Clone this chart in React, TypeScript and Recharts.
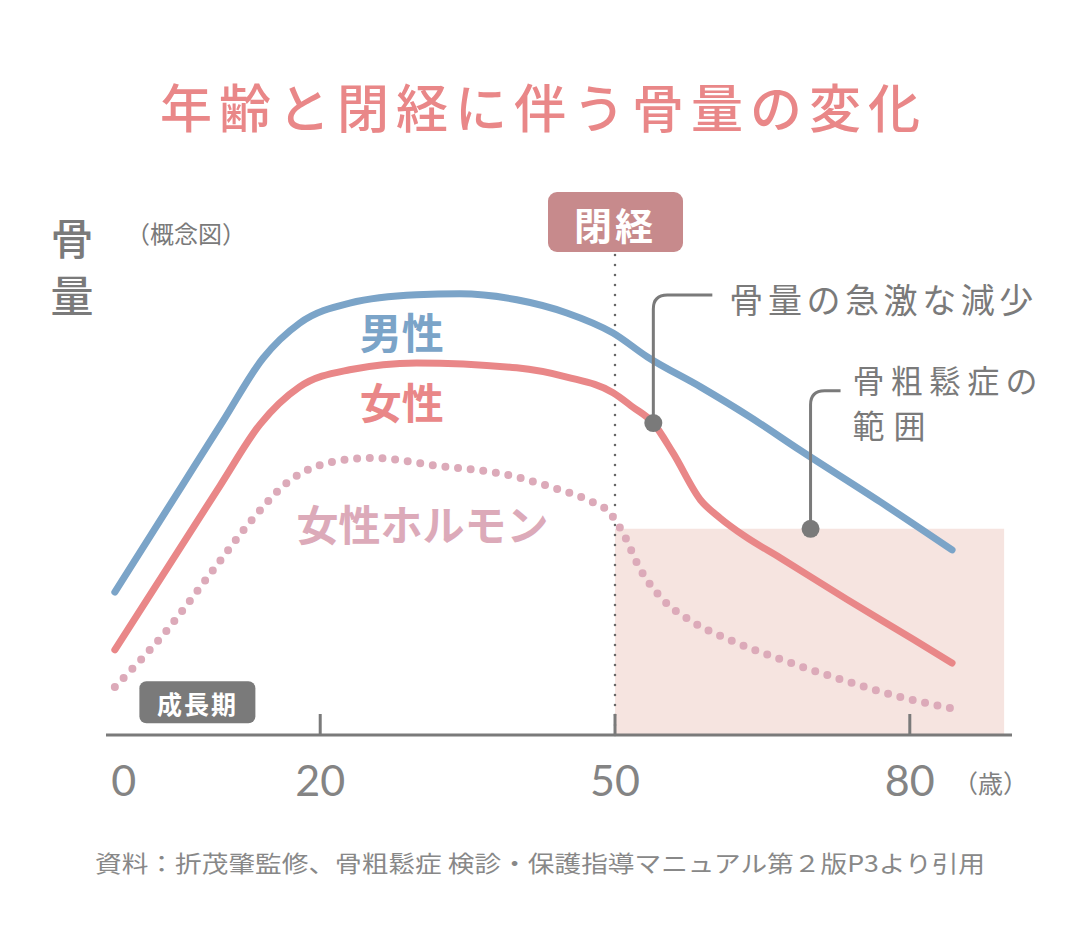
import { LineChart, Line, XAxis, YAxis, ReferenceArea, ReferenceLine, ReferenceDot } from "recharts";

// 骨量（概念図）: age -> relative bone mass
const menAge = [-0.9, 6.0, 10.1, 14.2, 17.9, 23.0, 29.8, 34.2, 40.0, 45.1, 49.8, 53.3, 58.7, 63.7, 68.8, 77.0, 84.3];
const menBone = [29.2, 51.1, 64.1, 77.0, 84.1, 88.2, 89.9, 90.1, 88.9, 86.2, 82.1, 77.2, 71.1, 65.0, 58.2, 47.6, 37.8];

const womenAge = [-0.9, 9.8, 13.9, 17.9, 23.0, 29.8, 40.0, 45.1, 49.8, 51.8, 53.9, 55.9, 58.7, 60.7, 63.2, 66.8, 73.6, 80.3, 84.3];
const womenBone = [17.4, 50.9, 63.5, 71.1, 74.6, 76.0, 75.0, 73.1, 69.9, 67.0, 63.7, 57.6, 48.0, 44.3, 40.6, 36.2, 27.7, 19.6, 14.7];

const hormoneAge = [-0.9, 4.4, 9.1, 13.2, 16.6, 21.3, 25.4, 31.5, 40.0, 43.4, 47.2, 49.5, 50.8, 52.5, 54.9, 57.9, 61.7, 66.5, 72.6, 79.0, 84.1];
const hormoneLevel = [9.8, 21.4, 33.7, 44.3, 51.5, 55.8, 56.6, 55.1, 52.7, 50.7, 48.0, 45.3, 41.3, 34.1, 27.6, 23.1, 19.4, 15.7, 11.6, 7.8, 5.5];

const xTicks = [0, 20, 50, 80];
const menopauseAge = 50;
const osteoEnd = 89.6;
const osteoLevel = 42.1;
const rapidLossAge = 53.9;
const rapidLossBone = 63.7;
const osteoMarkAge = 69.9;

const rows = (ages: number[], vals: number[]) => ages.map((age, i) => ({ age, v: vals[i] }));
const menData = rows(menAge, menBone);
const womenData = rows(womenAge, womenBone);
const hormoneData = rows(hormoneAge, hormoneLevel);

const JP = '"Noto Sans CJK JP", "Noto Sans", sans-serif';
const GRAY = "#7a7a7a";
const BLUE = "#7ba4c8";
const RED = "#e98788";
const PINK = "#dcaab9";

function AgeTick(props: any) {
  const { x, y, payload } = props;
  return (
    <g>
      {payload.value !== 0 && <line x1={x} x2={x} y1={y - 21} y2={y} stroke={GRAY} strokeWidth={3} />}
      <text x={x} y={y + 44} textAnchor="middle" dominantBaseline="central" fontFamily="Lato, 'Open Sans', sans-serif" fontWeight={400} fontSize={43} fill="#848484">
        {payload.value}
      </text>
    </g>
  );
}

function MenopauseTag(props: any) {
  const { viewBox } = props;
  const cx = viewBox.x;
  const top = viewBox.y - 24;
  return (
    <g>
      <rect x={cx - 67} y={top} width={135} height={60} rx={9} fill="#c78a8c" />
      <text x={cx} y={top + 31} textAnchor="middle" dominantBaseline="central" fontFamily={JP} fontWeight={700} fontSize={38} fill="#fff" letterSpacing={3}>
        閉経
      </text>
    </g>
  );
}

function Callout(props: any) {
  const { cx, cy, rise, reach, textDx, lines, offsets, widths, size } = props;
  const r = 14;
  const top = cy - rise;
  const d = `M${cx},${cy} V${top + r} Q${cx},${top} ${cx + r},${top} H${cx + reach}`;
  return (
    <g>
      <path d={d} fill="none" stroke={GRAY} strokeWidth={3} />
      <circle cx={cx} cy={cy} r={9} fill={GRAY} />
      {lines.map((t: string, i: number) => (
        <text key={t} x={cx + textDx} y={top + offsets[i]} dominantBaseline="central" fontFamily={JP} fontSize={size} fill={GRAY} textLength={widths[i]} lengthAdjust="spacing">
          {t}
        </text>
      ))}
    </g>
  );
}

function SeriesName(props: any) {
  const { cx, cy, text, color } = props;
  return (
    <text x={cx} y={cy} textAnchor="middle" dominantBaseline="central" fontFamily={JP} fontWeight={700} fontSize={42} fill={color}>
      {text}
    </text>
  );
}

function GrowthTag(props: any) {
  const { cx, cy } = props;
  return (
    <g>
      <rect x={cx - 58} y={cy - 21} width={116} height={42} rx={7} fill={GRAY} />
      <text x={cx} y={cy + 1} textAnchor="middle" dominantBaseline="central" fontFamily={JP} fontWeight={700} fontSize={25} fill="#fff" letterSpacing={2}>
        成長期
      </text>
    </g>
  );
}

export default function App() {
  return (
    <div style={{ position: "relative", width: 1080, height: 930, background: "#fff" }}>
      <style>{"body{margin:0}"}</style>
      <LineChart width={1080} height={930} margin={{ top: 216, right: 68, left: 106, bottom: 135 }}>
        <XAxis
          dataKey="age"
          type="number"
          domain={[-1.8, 90.4]}
          allowDataOverflow
          ticks={xTicks}
          tick={<AgeTick />}
          tickLine={false}
          tickSize={0}
          tickMargin={0}
          height={60}
          axisLine={{ stroke: GRAY, strokeWidth: 3 }}
        />
        <YAxis
          type="number"
          domain={[0, 106]}
          width={0}
          tick={false}
          tickLine={false}
          axisLine={{ stroke: GRAY, strokeWidth: 3 }}
        />
        <ReferenceArea x1={menopauseAge} x2={osteoEnd} y1={0} y2={osteoLevel} fill="#f6e4e0" fillOpacity={1} stroke="none" />
        <ReferenceLine
          x={menopauseAge}
          stroke="#666"
          strokeWidth={2.6}
          strokeDasharray="0 10"
          strokeLinecap="round"
          label={<MenopauseTag />}
        />
        <Line data={hormoneData} dataKey="v" type="monotone" stroke={PINK} strokeWidth={8} strokeDasharray="0 12.7" strokeLinecap="round" dot={false} isAnimationActive={false} />
        <Line data={menData} dataKey="v" type="monotone" stroke={BLUE} strokeWidth={7} strokeLinecap="round" dot={false} isAnimationActive={false} />
        <Line data={womenData} dataKey="v" type="monotone" stroke={RED} strokeWidth={7} strokeLinecap="round" dot={false} isAnimationActive={false} />
        <ReferenceDot x={28.3} y={82.7} r={0} shape={(p: any) => <SeriesName {...p} text="男性" color={BLUE} />} />
        <ReferenceDot x={28.3} y={68.4} r={0} shape={(p: any) => <SeriesName {...p} text="女性" color={RED} />} />
        <ReferenceDot x={30.4} y={43.5} r={0} shape={(p: any) => <SeriesName {...p} text="女性ホルモン" color={PINK} />} />
        <ReferenceDot x={7.5} y={6.7} r={0} shape={(p: any) => <GrowthTag {...p} />} />
        <ReferenceDot
          x={rapidLossAge}
          y={rapidLossBone}
          r={9}
          shape={(p: any) => (
            <Callout {...p} rise={128} reach={59} textDx={76} lines={["骨量の急激な減少"]} offsets={[3]} widths={[304]} size={34} />
          )}
        />
        <ReferenceDot
          x={osteoMarkAge}
          y={osteoLevel}
          r={9}
          shape={(p: any) => (
            <Callout {...p} rise={138} reach={30} textDx={42} lines={["骨粗鬆症の", "範囲"]} offsets={[-12, 33]} widths={[185, 73]} size={32} />
          )}
        />
      </LineChart>
      <svg width={1080} height={930} style={{ position: "absolute", left: 0, top: 0, pointerEvents: "none" }}>
        <text x={540} y={105} textAnchor="middle" dominantBaseline="central" fontFamily={JP} fontWeight={500} fontSize={52} fill={RED} textLength={760} lengthAdjust="spacing">
          年齢と閉経に伴う骨量の変化
        </text>
        <text x={72} y={236} textAnchor="middle" dominantBaseline="central" fontFamily={JP} fontWeight={500} fontSize={43} fill={GRAY}>骨</text>
        <text x={72} y={293} textAnchor="middle" dominantBaseline="central" fontFamily={JP} fontWeight={500} fontSize={43} fill={GRAY}>量</text>
        <text x={126} y={232} dominantBaseline="central" fontFamily={JP} fontSize={24} fill={GRAY}>（概念図）</text>
        <text x={953} y={782} dominantBaseline="central" fontFamily={JP} fontSize={25} fill="#808080">（歳）</text>
        <text x={95} y={862} dominantBaseline="central" fontFamily={JP} fontSize={23} fill="#888" textLength={890} lengthAdjust="spacingAndGlyphs">
          資料：折茂肇監修、骨粗鬆症 検診・保護指導マニュアル第２版P3より引用
        </text>
      </svg>
    </div>
  );
}
